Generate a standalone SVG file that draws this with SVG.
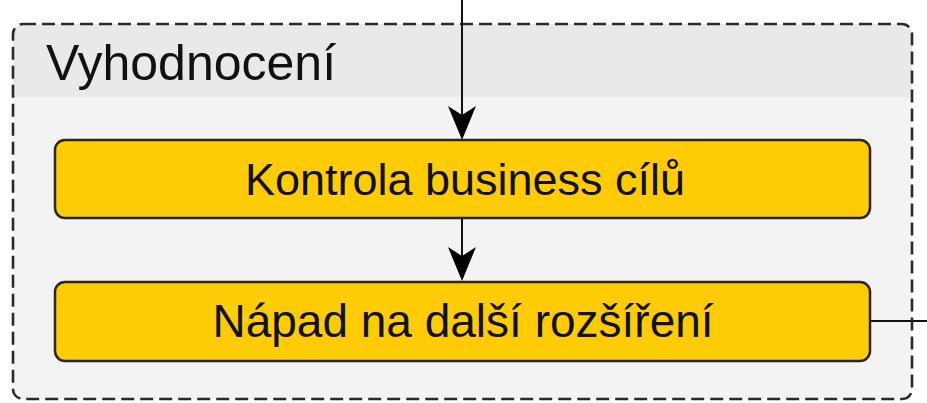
<svg xmlns="http://www.w3.org/2000/svg" width="927" height="403" viewBox="0 0 927 403">
<defs>
<style>
.box{fill:#fdcc07;stroke:#2b2420;stroke-width:2.5}
.lbl{font-family:"Liberation Sans",Arial,sans-serif;fill:#111}
.edge{stroke:#111;stroke-width:2;fill:none}
.head{fill:#000}
</style>
<clipPath id="cc"><rect x="13" y="24" width="899" height="375" rx="10"/></clipPath>
</defs>
<rect width="927" height="403" fill="#ffffff"/>
<g id="container">
<g clip-path="url(#cc)">
<rect x="13" y="24" width="899" height="375" fill="#f3f3f3"/>
<rect x="13" y="24" width="899" height="73" fill="#e9e9e9"/>
</g>
<rect x="13" y="24" width="899" height="375" rx="10" fill="none" stroke="#2a2a2a" stroke-width="2.6" stroke-dasharray="13 6"/>
<text class="lbl" x="46" y="80" font-size="50">Vyhodnocení</text>
</g>
<g id="connectors">
<line class="edge" x1="462" y1="0" x2="462" y2="132"/>
<path class="head" d="M462,140 L448,106 L462,115 L476,106 Z"/>
<line class="edge" x1="462" y1="218" x2="462" y2="273"/>
<path class="head" d="M462,281 L448,247 L462,256 L476,247 Z"/>
<line class="edge" x1="871" y1="321" x2="927" y2="321"/>
</g>
<g id="node1">
<rect class="box" x="55" y="140" width="815" height="78" rx="10"/>
<text class="lbl" x="465" y="195" font-size="45" text-anchor="middle">Kontrola business cílů</text>
</g>
<g id="node2">
<rect class="box" x="55" y="282" width="815" height="79" rx="10"/>
<text class="lbl" x="463" y="337" font-size="46" text-anchor="middle">Nápad na další rozšíření</text>
</g>
</svg>
